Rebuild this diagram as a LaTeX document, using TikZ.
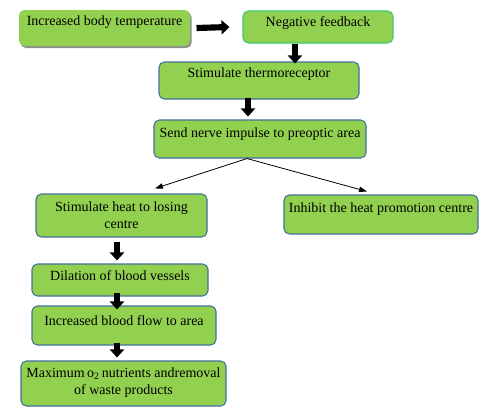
\documentclass[tikz,border=0pt]{standalone}
\usepackage{fontspec}
\setmainfont{Liberation Serif}
\usetikzlibrary{arrows.meta,calc,shadows}
\definecolor{boxgreen}{HTML}{92D050}
\definecolor{boxedge}{HTML}{41719C}
\definecolor{greenedge}{HTML}{3CC86E}
\tikzset{
  box/.style={fill=boxgreen, draw=boxedge, line width=0.8pt, rounded corners=4pt, inner sep=0pt},
  boxtext/.style={font=\rmfamily\fontsize{10.5pt}{12.5pt}\selectfont, align=center, inner sep=0pt, text=black},
  blockarrow/.style={line width=4.6pt, black, -{Triangle[width=10.5pt,length=6pt]}},
  thinarrow/.style={line width=0.6pt, black, -{Triangle[width=4pt,length=6pt]}},
}
\begin{document}
\begin{tikzpicture}[x=0.75pt,y=-0.75pt]
\useasboundingbox (0,0) rectangle (493,419);
% boxes
\node[box, draw=none, drop shadow={shadow xshift=1.2pt, shadow yshift=-1.5pt, fill=black!55, opacity=0.8},
      minimum width=128.25pt, minimum height=27pt] (b1) at (104.5,28) {};
\node[boxtext, anchor=center] (t1) at ($(b1.north)+(0,13)$) {Increased body temperature};
\node[box, draw=greenedge, minimum width=112.5pt, minimum height=24pt] (b2) at (318,27) {};
\node[boxtext] (t2) at ($(b2.north)+(0,13)$) {Negative feedback};
\node[box, minimum width=150pt, minimum height=27.75pt] (b3) at (259,80.5) {};
\node[boxtext] (t3) at ($(b3.north)+(0,13)$) {Stimulate thermoreceptor};
\node[box, minimum width=159pt, minimum height=28.5pt] (b4) at (260,139) {};
\node[boxtext] (t4) at ($(b4.north)+(0,15)$) {Send nerve impulse to preoptic area};
\node[box, minimum width=128.25pt, minimum height=32.25pt] (b5) at (121.5,215.5) {};
\node[boxtext] (t5) at ($(b5.north)+(0,21.5)$) {Stimulate heat to losing\\centre};
\node[box, minimum width=145.5pt, minimum height=29.25pt] (b6) at (381,214.5) {};
\node[boxtext] (t6) at ($(b6.north)+(0,15)$) {Inhibit the heat promotion centre};
\node[box, minimum width=132pt, minimum height=24pt] (b7) at (120,280) {};
\node[boxtext] (t7) at ($(b7.north)+(0,12)$) {Dilation of blood vessels};
\node[box, minimum width=138pt, minimum height=29.25pt] (b8) at (124,325.5) {};
\node[boxtext] (t8) at ($(b8.north)+(0,15)$) {Increased blood flow to area};
\node[box, minimum width=153.75pt, minimum height=33.75pt] (b9) at (123.5,383.5) {};
\node[boxtext] (t9) at ($(b9.north)+(0,22)$) {Maximum\,o\textsubscript{2}\,nutrients andremoval\\of waste products};
% block arrows
\draw[blockarrow] ($(b1.east)+(6,0)$) -- ($(b2.west)+(-13,0)$);
\draw[blockarrow] ($(b2.south)+(-23,0)$) -- ($(b3.north)+(36,2)$);
\draw[blockarrow] ($(b3.south)+(-11,-2)$) -- ($(b4.north)+(-12,-3)$);
\draw[blockarrow] ($(b5.south)+(-4.5,4)$) -- ($(b7.north)+(-3,-3)$);
\draw[blockarrow] ($(b7.south)+(-3,-4)$) -- ($(b8.north)+(-7,4)$);
\draw[blockarrow] ($(b8.south)+(-7,-3)$) -- ($(b9.north)+(-6.5,-3)$);
% thin arrows
\coordinate (split) at ($(b4.south)+(-13,0)$);
\draw[thinarrow] (split) -- ($(b5.north)+(33.5,-5)$);
\draw[thinarrow] (split) -- ($(b6.north)+(-14,-3)$);
\end{tikzpicture}
\end{document}
